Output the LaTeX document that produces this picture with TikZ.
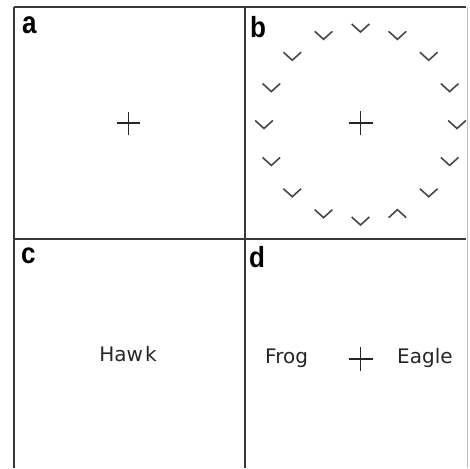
\documentclass[tikz,border=0pt]{standalone}
\usepackage{fontspec}
\usetikzlibrary{calc}
\setmainfont{DejaVu Sans}
\newfontfamily\labfont{Liberation Sans}
\begin{document}
\begin{tikzpicture}[x=1pt,y=-1pt,
  frame/.style={line width=1.5pt, draw=black!78},
  faint/.style={line width=0.8pt, draw=black!25},
  panellabel/.style={anchor=base west, inner sep=0pt, font=\labfont\bfseries\fontsize{26}{26}\selectfont},
  word/.style={inner sep=0pt, font=\fontsize{20}{20}\selectfont, text=black!85},
  fix/.style={line width=1.3pt, draw=black!85},
  chev/.style={line width=1.6pt, draw=black!72, line join=miter}]
\useasboundingbox (0,0) rectangle (470,468);
% frame
\draw[frame] (14,7) -- (466,7);
\draw[frame] (14,7) -- (14,468);
\draw[frame] (245,7) -- (245,468);
\draw[frame] (14,239) -- (466,239);
\draw[faint] (467,7) -- (467,468);
% labels
\node[panellabel] (la) at (22,34) {\scalebox{1}[1.2]{a}};
\node[panellabel] (lb) at (250,38) {\scalebox{1}[1.12]{b}};
\node[panellabel] (lc) at (21,263) {\scalebox{1}[1.12]{c}};
\node[panellabel] (ld) at (249,267) {\scalebox{1}[1.12]{d}};
% panel a fixation
\coordinate (fa) at (128.5,123);
\draw[fix] ($(fa)+(-11.5,0)$) -- ($(fa)+(11.5,0)$) ($(fa)+(0,-11.5)$) -- ($(fa)+(0,11.5)$);
% panel b fixation
\coordinate (fb) at (360.5,123);
\draw[fix] ($(fb)+(-12,0)$) -- ($(fb)+(12,0)$) ($(fb)+(0,-12)$) -- ($(fb)+(0,12)$);
% chevrons on a circle (y axis points down)
\foreach \i in {0,...,15} {
  \pgfmathsetmacro{\ang}{-90+22.5*\i}
  \coordinate (c\i) at ($(360.5,124.5)+(\ang:96.5)$);
}
\foreach \i in {0,1,2,3,4,5,6,8,9,10,11,12,13,14,15} {
  \draw[chev] ($(c\i)+(-8.8,-4)$) -- ($(c\i)+(0,4)$) -- ($(c\i)+(8.8,-4)$);
}
% the one inverted item (lower right)
\draw[chev] ($(c7)+(-8.8,4)$) -- ($(c7)+(0,-4)$) -- ($(c7)+(8.8,4)$);
% panel c
\node[word] (hawk) at (128,354) {Haw\kern2pt k};
% panel d
\node[word, anchor=base west] (frog) at (265,363) {Frog};
\node[word, anchor=base west] (eagle) at (397,363) {Eagle};
\coordinate (fd) at (360.5,359);
\draw[fix] ($(fd)+(-12,0)$) -- ($(fd)+(12,0)$) ($(fd)+(0,-12)$) -- ($(fd)+(0,12)$);
\end{tikzpicture}
\end{document}
